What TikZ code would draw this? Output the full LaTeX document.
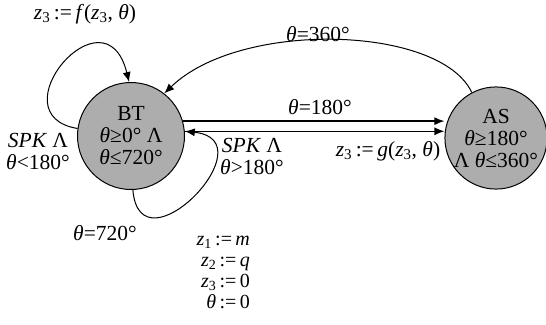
\documentclass[tikz,border=0pt]{standalone}
\usepackage{fontspec}
\setmainfont{Liberation Serif}
\usetikzlibrary{arrows.meta,calc}
\newcommand\thet{\textit{θ}}
\newcommand\zz[1]{\textit{z}\textsubscript{#1}}
\newcommand\eqs[1]{\,#1\,}

\begin{document}
\begin{tikzpicture}[x=1pt, y=-1pt, >={Latex[length=10pt,width=8pt]},
    every node/.style={font=\fontsize{21.5}{22}\selectfont, inner sep=1pt},
    state/.style={circle, draw, line width=1pt, fill=black!32, align=center, inner sep=0pt},
    arc/.style={->, line width=1pt}]
  \useasboundingbox (0,0) rectangle (546,324);
  \node[state, minimum size=107pt] (BT) at (131,136) {BT\\\thet≥0° Λ\\\thet≤720°};
  \node[state, minimum size=100pt] (AS) at (496,138) {AS\\\thet≥180°\\Λ \thet≤360°};
  % transitions
  \draw[arc] (AS.118) .. controls (440,25) and (240,20) .. (BT.52);
  \draw[arc, line width=1.3pt] (BT.16) -- (AS.west |- BT.16);
  \draw[arc, line width=1.3pt] (BT.5) -- (AS.west |- BT.5);
  \draw[arc] (BT.172) .. controls (-5,115) and (105,-15) .. (BT.92);
  \draw[arc] (BT.272) .. controls (140,275) and (270,140) .. (BT.5);
  % labels
  \node (lf) at (85,14) {\zz{3}\eqs{:=}\textit{f}(\zz{3}, \thet)};
  \node (l360) at (318,34) {\thet=360°};
  \node (l180) at (320,107) {\thet=180°};
  \node[align=center] (lspk1) at (38,151) {\textit{SPK} Λ\\\thet<180°};
  \node[align=center] (lspk2) at (252,156) {\textit{SPK} Λ\\\thet>180°};
  \node (lg) at (388,151) {\zz{3}\eqs{:=}\textit{g}(\zz{3}, \thet)};
  \node (l720) at (105,233) {\thet=720°};
  \node[align=right, anchor=east, font=\fontsize{20}{21}\selectfont] (lreset) at (251,272)
    {\zz{1}\eqs{:=}\textit{m}\\\zz{2}\eqs{:=}\textit{q}\\\zz{3}\eqs{:=}0\\\thet\eqs{:=}0};
\end{tikzpicture}
\end{document}
